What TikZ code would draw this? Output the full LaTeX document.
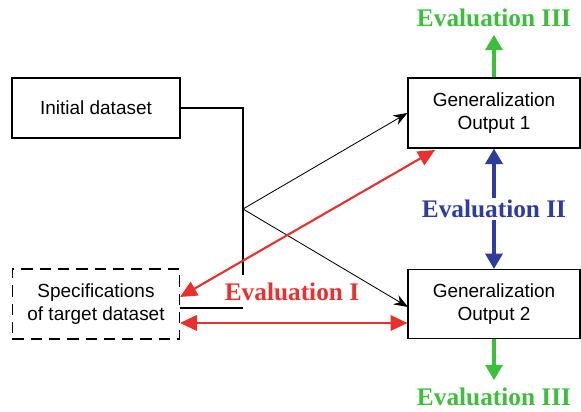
\documentclass[tikz,border=0pt]{standalone}
\usepackage{fontspec}
\setmainfont{Liberation Serif}
\setsansfont{Liberation Sans}
\usepackage{xcolor}
\usetikzlibrary{arrows.meta}
\definecolor{evalred}{HTML}{E8312F}
\definecolor{evalblue}{HTML}{2E3C9E}
\definecolor{evalgreen}{HTML}{3DBE3D}

\begin{document}
\begin{tikzpicture}[x=0.025cm, y=-0.025cm,
    box/.style={draw, rectangle, thick, align=center, font=\sffamily\fontsize{13.5}{16}\selectfont},
    evallabel/.style={font=\bfseries\fontsize{18}{20}\selectfont},
    redarrow/.style={evalred, line width=1.5pt, {Triangle[length=12pt,width=11pt]}-{Triangle[length=12pt,width=11pt]}},
    fatarrow/.style={line width=3pt, -{Triangle[length=11pt,width=12pt]}}]
    \useasboundingbox (0,0) rectangle (581,412);
    % Datasets
    \node[box, minimum width=4.2cm, minimum height=1.5cm] (init) at (96,108) {Initial dataset};
    \node[box, dash pattern=on 8pt off 5pt, minimum width=4.175cm, minimum height=1.75cm] (spec) at (96,304) {Specifications\\of target dataset};
    % Outputs
    \node[box, minimum width=4.3cm, minimum height=1.75cm] (out1) at (494,113) {Generalization\\Output 1};
    \node[box, minimum width=4.3cm, minimum height=1.72cm] (out2) at (494,304) {Generalization\\Output 2};
    % Labels
    \node[evallabel, text=evalgreen] (eval3a) at (494,18) {Evaluation III};
    \node[evallabel, text=evalblue] (eval2) at (494,209) {Evaluation II};
    \node[evallabel, text=evalgreen] (eval3b) at (494,397) {Evaluation III};
    \node[evallabel, text=evalred] (eval1) at (292,292) {Evaluation I};
    % Helper points
    \coordinate (join) at (243,209);
    \coordinate (vend) at (243,275);
    \coordinate (hend) at (243,308);
    \coordinate (redtop) at (435,150);
    \coordinate (redlow) at (180,297);
    \coordinate (redmid) at (180,323);
    \coordinate (out2in) at (408,307);

    % Connections
    \draw[thick] (init.east) -| (vend);
    \draw[thick] (spec.east |- hend) -- (hend);
    \draw[semithick, -{Stealth[length=10pt]}] (join) -- (out1.west);
    \draw[semithick, -{Stealth[length=10pt]}] (join) -- (out2in);
    % Evaluation I
    \draw[redarrow] (redlow) -- (redtop);
    \draw[redarrow] (redmid) -- (out2.west |- redmid);
    % Evaluation II
    \draw[fatarrow, evalblue] ([yshift=-2pt]eval2.north) -- (out1.south);
    \draw[fatarrow, evalblue] ([yshift=2pt]eval2.south) -- (out2.north);
    % Evaluation III
    \draw[fatarrow, evalgreen] (out1.north) -- ([yshift=-2pt]eval3a.south);
    \draw[fatarrow, evalgreen] (out2.south) -- ([yshift=2pt]eval3b.north);
\end{tikzpicture}
\end{document}
